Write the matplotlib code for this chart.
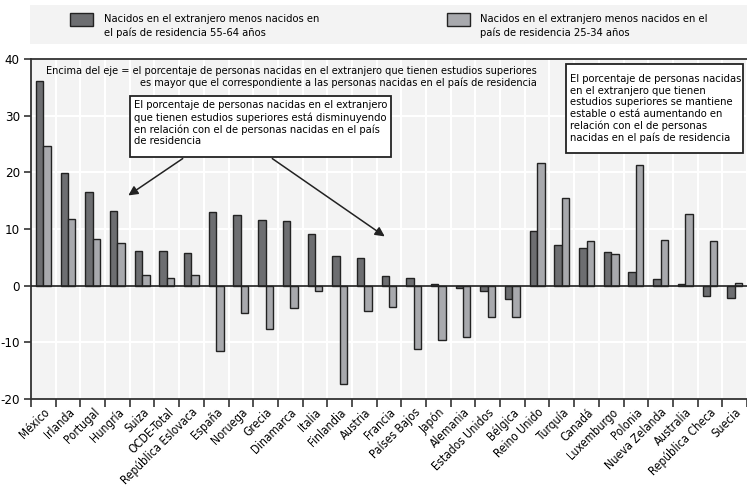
import numpy as np
import matplotlib
matplotlib.use("Agg")
import matplotlib.pyplot as plt
from matplotlib.patches import Rectangle

plt.rcParams['font.family'] = ['DejaVu Sans']
plt.rcParams['font.stretch'] = 'condensed'

countries = ["México", "Irlanda", "Portugal", "Hungría", "Suiza", "OCDE-Total",
             "República Eslovaca", "España", "Noruega", "Grecia", "Dinamarca",
             "Italia", "Finlandia", "Austria", "Francia", "Países Bajos", "Japón",
             "Alemania", "Estados Unidos", "Bélgica", "Reino Unido", "Turquía",
             "Canadá", "Luxemburgo", "Polonia", "Nueva Zelanda", "Australia",
             "República Checa", "Suecia"]

# nacidos en el extranjero menos nacidos en el pais, 55-64 y 25-34
age_55_64 = [36.2, 19.8, 16.6, 13.2, 6.1, 6.1, 5.8, 13.0, 12.4, 11.5, 11.4,
             9.1, 5.2, 4.8, 1.7, 1.3, 0.3, -0.5, -0.9, -2.3, 9.6, 7.1,
             6.6, 5.9, 2.4, 1.1, 0.3, -1.9, -2.2]
age_25_34 = [24.6, 11.8, 8.3, 7.6, 1.8, 1.3, 1.9, -11.5, -4.9, -7.7, -4.0,
             -0.9, -17.3, -4.5, -3.8, -11.2, -9.6, -9.0, -5.5, -5.6, 21.6, 15.4,
             7.8, 5.6, 21.3, 8.1, 12.7, 7.8, 0.4]

legend_labels = ["Nacidos en el extranjero menos nacidos en\nel país de residencia 55-64 años",
                 "Nacidos en el extranjero menos nacidos en el\npaís de residencia 25-34 años"]

dark = '#6d6e71'
light = '#a8a9ad'
W, H = 747, 486


def fx(px):
    return px / W


def fy(py):
    return 1 - py / H


fig = plt.figure(figsize=(7.47, 4.86), dpi=100)
ax = fig.add_axes([fx(31), 87 / H, 716 / W, 340 / H])
ax.set_facecolor('#f3f3f3')

x = np.arange(len(countries))
w = 0.3
ax.bar(x - w/2, age_55_64, w, color=dark, edgecolor='#222222', linewidth=1, zorder=3)
ax.bar(x + w/2, age_25_34, w, color=light, edgecolor='#222222', linewidth=1, zorder=3)

ax.set_xlim(-0.5, -0.5 + 716 / 24.8)
ax.set_ylim(-20, 40)
ax.set_yticks([-20, -10, 0, 10, 20, 30, 40])
ax.set_yticklabels(['-20', '-10', '0', '10', '20', '30', '40'], fontsize=9.5)
ax.axhline(0, color='#222222', linewidth=1.2, zorder=4)

# white grid: horizontal every 10, vertical between categories
for yv in [-10, 10, 20, 30]:
    ax.axhline(yv, color='white', linewidth=1.5, zorder=1)
for xv in np.arange(0.5, len(countries), 1):
    ax.axvline(xv, color='white', linewidth=1.5, zorder=1)

ax.set_xticks(np.arange(-0.5, len(countries), 1))
ax.set_xticklabels([])
ax.set_xticks(x, minor=True)
ax.set_xticklabels(countries, minor=True, rotation=45, ha='right',
                   rotation_mode='anchor', fontsize=8.5)
ax.tick_params(axis='x', which='major', length=6, width=1.2, color='#333333')
ax.tick_params(axis='x', which='minor', length=0, pad=5)
ax.tick_params(axis='y', length=5, width=1.2, color='#333333', pad=3)

for s in ['left', 'bottom', 'top']:
    ax.spines[s].set_color('#333333')
    ax.spines[s].set_linewidth(1.3)
ax.spines['right'].set_visible(False)

# legend band
fig.patches.append(Rectangle((fx(30), fy(44)), 717 / W, 39 / H,
                             transform=fig.transFigure, facecolor='#f3f3f3',
                             edgecolor='none', zorder=0))
fig.patches.append(Rectangle((fx(70), fy(26.5)), 23 / W, 13.5 / H,
                             transform=fig.transFigure, facecolor=dark,
                             edgecolor='#222222', linewidth=1))
fig.patches.append(Rectangle((fx(447), fy(26.5)), 23 / W, 13.5 / H,
                             transform=fig.transFigure, facecolor=light,
                             edgecolor='#222222', linewidth=1))
fig.text(fx(104), fy(26), legend_labels[0], fontsize=8, va='center',
         linespacing=1.3)
fig.text(fx(480), fy(26), legend_labels[1], fontsize=8, va='center',
         linespacing=1.3)

# annotations
fig.text(fx(537), fy(77), "Encima del eje = el porcentaje de personas nacidas en el extranjero que tienen estudios superiores\n"
         "es mayor que el correspondiente a las personas nacidas en el país de residencia",
         fontsize=7.8, ha='right', va='center', multialignment='right',
         linespacing=1.2, zorder=6)

box_left = ("El porcentaje de personas nacidas en el extranjero\n"
            "que tienen estudios superiores está disminuyendo\n"
            "en relación con el de personas nacidas en el país\n"
            "de residencia")
box_right = ("El porcentaje de personas nacidas\n"
             "en el extranjero que tienen\n"
             "estudios superiores se mantiene\n"
             "estable o está aumentando en\n"
             "relación con el de personas\n"
             "nacidas en el país de residencia")

fig.patches.append(Rectangle((fx(130), fy(157)), 261 / W, 61 / H,
                             transform=fig.transFigure, facecolor='white',
                             edgecolor='#222222', linewidth=1.3, zorder=5))
fig.patches.append(Rectangle((fx(566), fy(153)), 177 / W, 89 / H,
                             transform=fig.transFigure, facecolor='white',
                             edgecolor='#222222', linewidth=1.3, zorder=5))
fig.text(fx(134), fy(123.5), box_left, fontsize=8, va='center', ha='left',
         linespacing=1.2, zorder=6)
fig.text(fx(570), fy(108.7), box_right, fontsize=8, va='center', ha='left',
         linespacing=1.2, zorder=6)

arrow = dict(arrowstyle='-|>', color='#222222', linewidth=1.1, mutation_scale=14)
ax.annotate('', xy=(fx(126), fy(197)), xytext=(fx(185), fy(157)),
            xycoords='figure fraction', textcoords='figure fraction',
            arrowprops=arrow, zorder=5)
ax.annotate('', xy=(fx(387), fy(238)), xytext=(fx(270), fy(157)),
            xycoords='figure fraction', textcoords='figure fraction',
            arrowprops=arrow, zorder=5)

fig.savefig('out.png', dpi=100)
